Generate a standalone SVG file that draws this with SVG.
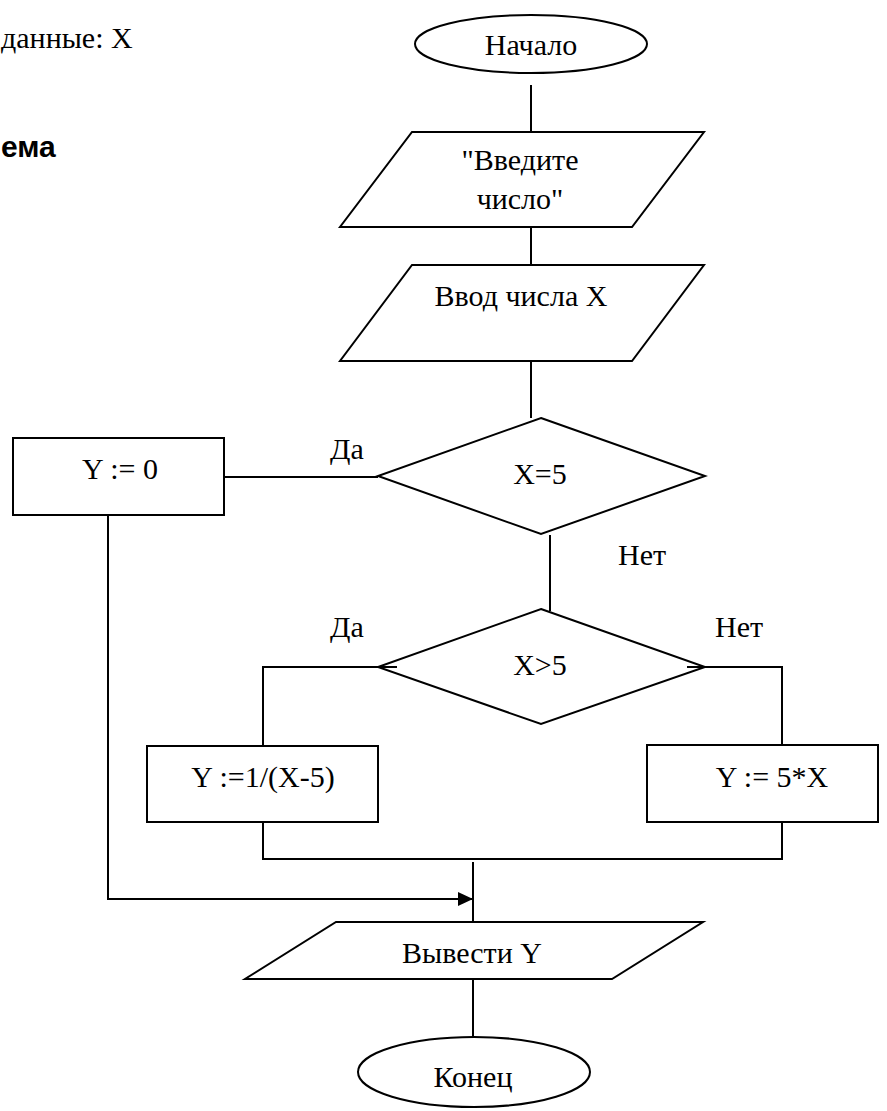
<svg xmlns="http://www.w3.org/2000/svg" width="887" height="1111" viewBox="0 0 887 1111">
<style>
.s{fill:#fff;stroke:#000;stroke-width:2}
.c{fill:none;stroke:#000;stroke-width:2}
.t{font-family:"Liberation Serif","Times New Roman","DejaVu Serif",serif;font-size:30px;fill:#000}
.m{text-anchor:middle}
.h{font-family:"Liberation Sans",Arial,sans-serif;font-size:30px;font-weight:bold;fill:#000}
</style>
<defs>
<marker id="ar" markerWidth="16" markerHeight="14" refX="15" refY="7" orient="auto" markerUnits="userSpaceOnUse">
<path d="M0,0 L15,7 L0,14 Z" fill="#000"/>
</marker>
</defs>
<rect width="887" height="1111" fill="#fff"/>
<text class="t" x="1" y="48">данные: X</text>
<text class="h" x="1" y="157">ема</text>
<g id="connectors">
<line class="c" x1="531" y1="85" x2="531" y2="131"/>
<line class="c" x1="531" y1="227" x2="531" y2="265"/>
<line class="c" x1="531" y1="361" x2="531" y2="418"/>
<line class="c" x1="224" y1="477" x2="378" y2="477"/>
<line class="c" x1="550" y1="535" x2="550" y2="611"/>
<polyline class="c" points="397,667 263,667 263,746"/>
<polyline class="c" points="687,667 782,667 782,745"/>
<polyline class="c" points="263,822 263,859 782,859 782,822"/>
<polyline class="c" points="108,515 108,899 473,899" marker-end="url(#ar)"/>
<line class="c" x1="473" y1="862" x2="473" y2="922"/>
<line class="c" x1="473" y1="979" x2="473" y2="1037"/>
</g>
<g id="start">
<ellipse class="s" cx="531" cy="44" rx="116" ry="29"/>
<text class="t m" x="531" y="55">Начало</text>
</g>
<g id="prompt">
<polygon class="s" points="412,132 704,132 632,227 340,227"/>
<text class="t m" x="520" y="170">"Введите</text>
<text class="t m" x="520" y="209">число"</text>
</g>
<g id="input">
<polygon class="s" points="412,265 704,265 632,361 340,361"/>
<text class="t m" x="521" y="306">Ввод числа X</text>
</g>
<g id="cond1">
<polygon class="s" points="541,418 705,476 541,534 378,476"/>
<text class="t m" x="540" y="484">X=5</text>
</g>
<text class="t" x="330" y="459">Да</text>
<text class="t" x="618" y="565">Нет</text>
<g id="y0">
<rect class="s" x="13" y="438" width="211" height="77"/>
<text class="t m" x="120" y="479">Y := 0</text>
</g>
<g id="cond2">
<polygon class="s" points="541,609 705,667 541,724 378,667"/>
<line class="c" x1="378" y1="667" x2="397" y2="667"/>
<line class="c" x1="687" y1="667" x2="705" y2="667"/>
<text class="t m" x="540" y="675">X&gt;5</text>
</g>
<text class="t" x="330" y="637">Да</text>
<text class="t" x="715" y="637">Нет</text>
<g id="yinv">
<rect class="s" x="147" y="746" width="231" height="76"/>
<text class="t m" x="263" y="787">Y :=1/(X-5)</text>
</g>
<g id="y5x">
<rect class="s" x="647" y="745" width="231" height="77"/>
<text class="t m" x="772" y="787">Y := 5*X</text>
</g>
<g id="output">
<polygon class="s" points="336,922 703,922 612,979 245,979"/>
<text class="t m" x="472" y="963">Вывести Y</text>
</g>
<g id="end">
<ellipse class="s" cx="474" cy="1072" rx="116" ry="35"/>
<text class="t m" x="473" y="1087">Конец</text>
</g>
</svg>
